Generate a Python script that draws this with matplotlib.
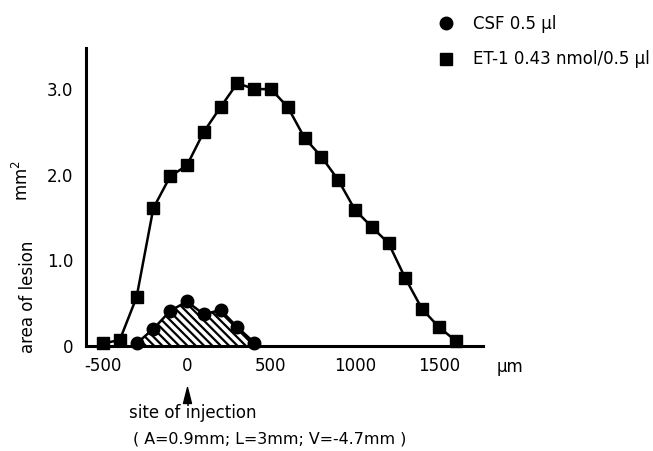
import matplotlib
matplotlib.use("Agg")
import matplotlib.pyplot as plt
from matplotlib.lines import Line2D
from matplotlib.path import Path
import matplotlib.transforms as mtransforms

# ---- data ----
csf_x = [-300, -200, -100, 0, 100, 200, 300, 400]
csf_y = [0.03, 0.20, 0.41, 0.52, 0.37, 0.42, 0.22, 0.04]

et1_x = [-500, -400, -300, -200, -100, 0, 100, 200, 300, 400, 500, 600,
         700, 800, 900, 1000, 1100, 1200, 1300, 1400, 1500, 1600]
et1_y = [0.03, 0.07, 0.57, 1.61, 1.98, 2.11, 2.50, 2.79, 3.07, 3.00, 3.00, 2.79,
         2.43, 2.21, 1.94, 1.59, 1.39, 1.20, 0.79, 0.43, 0.22, 0.06]

x_ticks = [-500, 0, 500, 1000, 1500]
x_ticklabels = ["-500", "0", "500", "1000", "1500"]
y_ticks = [0, 1.0, 2.0, 3.0]
y_ticklabels = ["0", "1.0", "2.0", "3.0"]

csf_label = "CSF 0.5 µl"
et1_label = "ET-1 0.43 nmol/0.5 µl"

plt.rcParams['font.family'] = ['DejaVu Sans']
plt.rcParams['hatch.linewidth'] = 1.6

FS = 12
W, H = 653, 451
fig = plt.figure(figsize=(W / 100, H / 100), dpi=100)
ax = fig.add_axes([86 / W, (H - 346) / H, (483 - 86) / W, (346 - 48) / H])

ax.set_xlim(-601, 1762)
ax.set_ylim(0, 3.48)

# hatched area under CSF curve
BS = chr(92)
ax.fill_between(csf_x, csf_y, 0, facecolor='white', edgecolor='black',
                hatch=BS * 4, linewidth=0, zorder=1)

ax.plot(et1_x, et1_y, color='black', lw=1.8, marker='s', ms=9,
        clip_on=False, zorder=3)
ax.plot(csf_x, csf_y, color='black', lw=1.8, marker='o', ms=9,
        clip_on=False, zorder=4)

for s in ['top', 'right']:
    ax.spines[s].set_visible(False)
for s in ['left', 'bottom']:
    ax.spines[s].set_linewidth(2.2)

ax.set_xticks(x_ticks)
ax.set_xticklabels(x_ticklabels)
ax.set_yticks(y_ticks)
ax.set_yticklabels(y_ticklabels)
ax.tick_params(axis='both', length=0, labelsize=FS)
ax.tick_params(axis='x', pad=8)
ax.tick_params(axis='y', pad=9)

# legend
handles = [Line2D([], [], ls='none', marker='o', color='black', ms=9),
           Line2D([], [], ls='none', marker='s', color='black', ms=9)]
fig.legend(handles, [csf_label, et1_label], loc='upper left',
           bbox_to_anchor=(438 / W, (H - 15) / H), frameon=False,
           fontsize=FS, handlelength=1.0, handletextpad=1.1,
           labelspacing=1.05, borderpad=0, borderaxespad=0)

# axis labels
fig.text(28 / W, (H - 297) / H, "area of lesion", rotation=90,
         ha='center', va='center', fontsize=FS)
fig.text(22 / W, (H - 181) / H, "mm$^2$", rotation=90,
         ha='center', va='center', fontsize=FS)
fig.text(497 / W, (H - 367) / H, "µm", ha='left', va='center', fontsize=FS)

# injection site marker
trans = mtransforms.blended_transform_factory(ax.transData, fig.transFigure)
tri = Path([(-0.5, -1.0), (0.5, -1.0), (0.0, 1.0), (-0.5, -1.0)],
           [Path.MOVETO, Path.LINETO, Path.LINETO, Path.CLOSEPOLY])
ax.plot([0], [(H - 395) / H], marker=tri, ms=11.5, color='black',
        ls='none', transform=trans, clip_on=False)
fig.text(193 / W, (H - 413) / H, "site of injection", ha='center',
         va='center', fontsize=FS)
fig.text(133 / W, (H - 439) / H, "( A=0.9mm; L=3mm; V=-4.7mm )",
         ha='left', va='center', fontsize=11.4)

fig.savefig("out.png", dpi=100)
